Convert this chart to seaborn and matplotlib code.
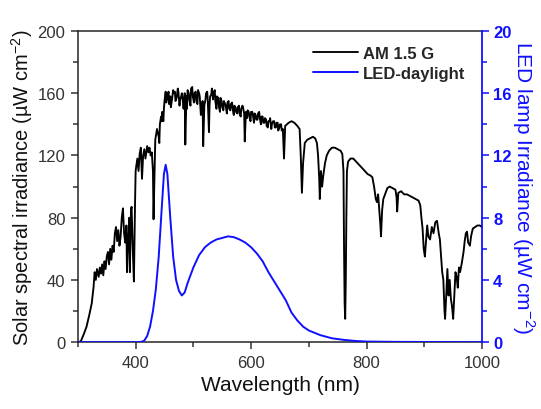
import numpy as np
import pandas as pd
import matplotlib
matplotlib.use('Agg')
import matplotlib.pyplot as plt
from matplotlib.ticker import MultipleLocator
import seaborn as sns

# AM 1.5 G solar spectrum (nm, uW cm-2)
am_wl = [300, 305, 310, 315, 320, 324, 327, 329, 331, 333, 336, 338, 340, 342, 344, 346, 348, 350,
         352, 354, 356, 358, 360, 362, 364, 366, 368, 370, 372, 374, 376, 378, 380, 382, 384, 385,
         387, 389, 390, 392, 393, 395, 397, 399, 400,
         401, 403, 405, 407, 409, 411, 413, 415, 417, 420, 422, 424, 426, 428, 430, 431, 432, 434,
         437, 440, 442, 444, 446, 448, 450, 452, 455, 458, 460, 463, 466, 468, 471, 474, 477, 480,
         483, 486, 488, 490, 493, 496, 499,
         502, 505, 508, 511, 514, 517, 519, 522, 525, 527, 529, 532, 535, 538, 541, 544, 547, 550,
         553, 556, 559, 562, 565, 568, 571, 574, 577, 580, 583, 586, 589, 591, 594, 597, 600, 603,
         606, 609, 612, 615, 618, 621, 624, 627, 630, 633, 636, 640, 643, 646, 649, 652, 655, 657,
         659, 662,
         665, 670, 675, 680, 684, 686, 688, 690, 693, 697, 702, 707, 711, 714, 716, 718, 719, 721,
         723, 725, 728, 731, 735, 740, 745, 750, 755, 758, 760, 761, 762, 763, 764, 765, 766, 768,
         772, 777, 782, 787, 792, 797, 802, 807, 810, 813, 816, 818, 820, 822, 824, 825, 827, 829,
         832, 836, 840, 845, 850, 852, 853, 855, 860, 865, 870, 875, 880, 885, 890, 893, 895, 897,
         899, 901, 903, 905, 907, 910, 913, 916, 919, 922, 925, 927, 929, 931, 933, 935, 936, 938,
         940, 942, 944, 946, 948, 950, 952, 954, 956, 958, 960, 962, 965, 968, 970, 972, 974, 976,
         979, 981, 984, 988, 992, 996, 1000]
am_irr = [0, 0.5, 5, 10, 18, 25, 35, 45, 40, 47, 42, 48, 44, 50, 43, 52, 47, 55,
          58, 50, 60, 53, 62, 58, 70, 74, 65, 72, 62, 68, 80, 86, 70, 64, 75, 45,
          66, 80, 45, 85, 87, 60, 39, 90, 110,
          113, 118, 110, 121, 125, 105, 120, 124, 118, 126, 122, 125, 120, 122, 110, 79, 95, 130,
          137, 132, 140, 145, 148, 142, 155, 161, 157, 153, 158, 156, 160, 161, 157, 161, 156, 160,
          150, 127, 158, 162, 156, 163, 158,
          160, 155, 162, 158, 150, 126, 152, 160, 155, 135, 158, 163, 160, 155, 158, 152, 157, 151,
          155, 152, 154, 150, 153, 150, 152, 148, 151, 147, 150, 151, 129, 148, 149, 145, 148, 146,
          147, 143, 147, 144, 145, 141, 144, 139, 142, 144, 140, 142, 138, 141, 138, 140, 137, 118,
          139, 140,
          141, 142, 141, 139, 137, 120, 96, 115, 128, 130, 131, 132, 131, 128, 120, 105, 92, 110,
          100, 107, 115, 120, 123, 125, 125, 124, 123, 121, 110, 60, 25, 15, 40, 80, 110, 116,
          118, 118, 116, 114, 112, 110, 108, 107, 106, 100, 92, 90, 95, 85, 75, 68, 85, 92,
          95, 99, 100, 99, 98, 93, 84, 96, 97, 95, 95, 94, 93, 92, 91, 88, 80, 73,
          60, 55, 65, 75, 68, 66, 74, 70, 77, 78, 70, 66, 55, 45, 40, 20, 15, 30,
          47, 30, 40, 28, 23, 15, 30, 45, 42, 35, 48, 45, 51, 58, 65, 70, 71, 64,
          62, 68, 73, 74, 75, 75, 74]

# extra fine-structure readings in the dense 430-660 nm band
fine_wl = [441, 445, 449, 453, 457, 461, 465, 469, 473, 476, 479, 482, 485, 489, 492, 495, 498,
           501, 504, 507, 510, 513, 516, 521, 524, 528, 531, 534, 537, 540, 543, 546, 549, 552,
           555, 558, 561, 564, 567, 570, 573, 576, 579, 582, 585, 588, 593, 596, 599, 602, 605,
           608, 611, 614, 617, 620, 623, 626, 629, 632, 635, 638, 641, 644, 647, 650, 653]
fine_irr = [128, 142, 150, 154, 161, 151, 162, 155, 163, 152, 158, 154, 160, 150, 160, 152, 164,
            154, 161, 153, 160, 146, 155, 156, 161, 152, 159, 156, 162, 150, 157, 148, 155, 149,
            153, 147, 155, 149, 154, 146, 151, 147, 152, 145, 152, 147, 144, 148, 142, 148, 141,
            146, 143, 148, 140, 145, 141, 143, 138, 142, 137, 142, 138, 141, 136, 140, 136]

am = pd.DataFrame({'wl': am_wl + fine_wl, 'irr': am_irr + fine_irr}).sort_values('wl')

# LED daylight lamp spectrum (nm, uW cm-2)
led_wl = [300, 400, 410, 415, 420, 425, 430, 435, 440, 445, 449, 452, 455, 460, 465, 470, 475,
          480, 485, 490, 500, 510, 520, 530, 540, 550, 560, 570, 580, 590, 600, 610, 620, 630,
          640, 650, 660, 670, 680, 690, 700, 720, 740, 760, 780, 800, 850, 1000]
led_irr = [0, 0, 0.02, 0.1, 0.4, 1.0, 2.0, 3.4, 5.5, 8.5, 10.8, 11.4, 10.8, 8.0, 5.5, 4.0, 3.3,
           3.0, 3.2, 3.8, 4.8, 5.6, 6.1, 6.4, 6.6, 6.7, 6.8, 6.75, 6.6, 6.4, 6.1, 5.7, 5.2, 4.5,
           3.9, 3.3, 2.7, 1.9, 1.4, 1.0, 0.75, 0.45, 0.25, 0.15, 0.08, 0.04, 0.02, 0.0]

led = pd.DataFrame({'wl': led_wl, 'irr': led_irr})

sns.set_style('ticks')
plt.rcParams['font.family'] = ['Liberation Sans', 'DejaVu Sans']
plt.rcParams['axes.linewidth'] = 1.1

blue = '#1010ff'
grey = '#333333'

fig = plt.figure(figsize=(5.41, 4.10), dpi=100)
ax = fig.add_axes([0.144, 0.163, 0.747, 0.759])
ax2 = ax.twinx()

sns.lineplot(data=am, x='wl', y='irr', ax=ax, color='black', lw=1.35, label='AM 1.5 G',
             legend=False, sort=False)
sns.lineplot(data=led, x='wl', y='irr', ax=ax2, color=blue, lw=1.4, label='LED-daylight',
             legend=False)

ax.set_xlim(300, 1000)
ax.set_ylim(0, 200)
ax2.set_ylim(0, 20)
ax.xaxis.set_major_locator(MultipleLocator(200))
ax.xaxis.set_minor_locator(MultipleLocator(100))
ax.yaxis.set_major_locator(MultipleLocator(40))
ax.yaxis.set_minor_locator(MultipleLocator(20))
ax2.yaxis.set_major_locator(MultipleLocator(4))
ax2.yaxis.set_minor_locator(MultipleLocator(2))

ax.tick_params(which='major', length=5, width=1.1, labelsize=12, colors=grey, pad=4)
ax.tick_params(which='minor', length=3.5, width=1.1, colors=grey)
ax2.tick_params(which='major', length=5, width=1.1, labelsize=12, colors=blue, pad=3)
ax2.tick_params(which='minor', length=3.5, width=1.1, colors=blue)
for t in ax2.get_yticklabels():
    t.set_fontweight('bold')

ax2.spines['right'].set_color(blue)
ax2.spines['right'].set_linewidth(1.3)
for s in ['top', 'left', 'bottom']:
    ax.spines[s].set_visible(True)
    ax2.spines[s].set_visible(False)
ax.spines['right'].set_visible(False)

ax.set_xlabel('Wavelength (nm)', fontsize=15, labelpad=4, color='#111111')
ax.set_ylabel('Solar spectral irradiance (\u00b5W cm$^{\\mathregular{-2}}$)', fontsize=14.5,
              labelpad=2, color='#111111')
ax2.set_ylabel('LED lamp Irradiance (\u00b5W cm$^{\\mathregular{-2}}$)', fontsize=15, color=blue,
               rotation=270, labelpad=18)

h1, l1 = ax.get_legend_handles_labels()
h2, l2 = ax2.get_legend_handles_labels()
leg = ax2.legend(h1 + h2, l1 + l2, loc='upper right', bbox_to_anchor=(0.995, 1.0),
                 frameon=False, handlelength=2.7, handletextpad=0.25, labelspacing=0.3,
                 prop={'weight': 'bold', 'size': 12})

fig.savefig('out.png', dpi=100)
